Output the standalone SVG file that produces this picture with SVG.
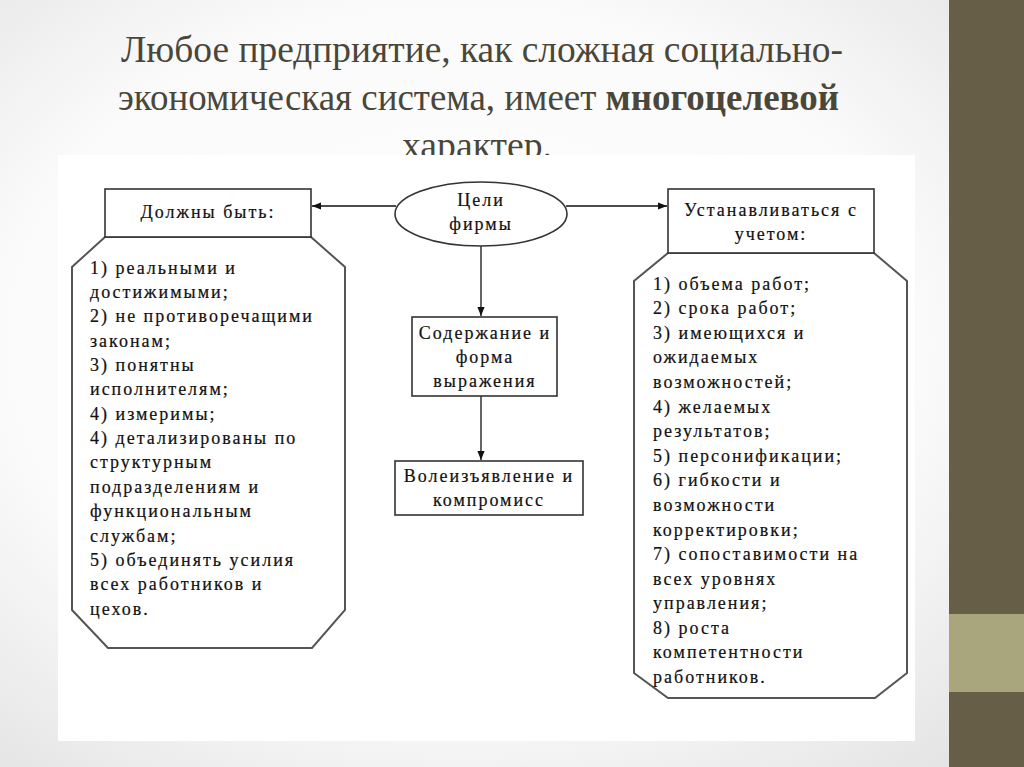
<svg xmlns="http://www.w3.org/2000/svg" width="1024" height="767" viewBox="0 0 1024 767">
<defs>
<radialGradient id="bg" cx="0.45" cy="0.45" r="0.75">
<stop offset="0" stop-color="#ffffff"/>
<stop offset="0.6" stop-color="#fafafa"/>
<stop offset="1" stop-color="#e2e2e2"/>
</radialGradient>
<marker id="ah" viewBox="0 0 10 10" refX="10" refY="5" markerWidth="9" markerHeight="9" markerUnits="userSpaceOnUse" orient="auto">
<path d="M0,1 L10,5 L0,9 Z" fill="#111"/>
</marker>
<style>
.title{font-family:"Liberation Serif","DejaVu Serif",serif;font-size:38px;fill:#4a4638;}
.t{font-family:"Liberation Serif","DejaVu Serif",serif;font-size:18px;fill:#111;letter-spacing:2px;stroke:#111;stroke-width:0.2px;}
.c{text-anchor:middle;}
.box{fill:#ffffff;stroke:#333;stroke-width:1.6;}
.oct{fill:#ffffff;stroke:#555;stroke-width:2;}
.con{stroke:#111;stroke-width:1.3;fill:none;marker-end:url(#ah);}
</style>
</defs>
<rect x="0" y="0" width="1024" height="767" fill="url(#bg)"/>
<rect x="949" y="0" width="75" height="767" fill="#665e47"/>
<rect x="949" y="614" width="75" height="78" fill="#a9a57c"/>
<g id="title">
<text class="title" x="121" y="62" textLength="722" lengthAdjust="spacingAndGlyphs">Любое предприятие, как сложная социально-</text>
<text class="title" x="118" y="110" textLength="721" lengthAdjust="spacingAndGlyphs">экономическая система, имеет <tspan font-weight="bold">многоцелевой</tspan></text>
<text class="title" x="402" y="158" textLength="150" lengthAdjust="spacingAndGlyphs">характер.</text>
</g>
<rect x="58" y="155" width="857" height="586" fill="#ffffff"/>
<g id="connectors">
<line class="con" x1="396" y1="206" x2="312" y2="206"/>
<line class="con" x1="566" y1="206" x2="667" y2="206"/>
<line class="con" x1="481" y1="246" x2="481" y2="316"/>
<line class="con" x1="481" y1="396" x2="481" y2="460"/>
</g>
<g id="left-list">
<polygon class="oct" points="105,237 311,237 345,267 345,610 312,648 108,648 72,610 72,267"/>
<text class="t" x="90" y="274">1) реальными и</text>
<text class="t" x="90" y="298">достижимыми;</text>
<text class="t" x="90" y="322">2) не противоречащими</text>
<text class="t" x="90" y="347">законам;</text>
<text class="t" x="90" y="371">3) понятны</text>
<text class="t" x="90" y="395">исполнителям;</text>
<text class="t" x="90" y="420">4) измеримы;</text>
<text class="t" x="90" y="444">4) детализированы по</text>
<text class="t" x="90" y="468">структурным</text>
<text class="t" x="90" y="493">подразделениям и</text>
<text class="t" x="90" y="517">функциональным</text>
<text class="t" x="90" y="542">службам;</text>
<text class="t" x="90" y="566">5) объединять усилия</text>
<text class="t" x="90" y="590">всех работников и</text>
<text class="t" x="90" y="615">цехов.</text>
</g>
<g id="must-be">
<rect class="box" x="105" y="189" width="206" height="48"/>
<text class="t c" x="208" y="218">Должны быть:</text>
</g>
<g id="goals">
<ellipse class="box" cx="481" cy="214" rx="86" ry="32"/>
<text class="t c" x="481" y="206">Цели</text>
<text class="t c" x="481" y="230">фирмы</text>
</g>
<g id="content">
<rect class="box" x="412" y="317" width="145" height="79"/>
<text class="t c" x="485" y="339">Содержание и</text>
<text class="t c" x="485" y="363">форма</text>
<text class="t c" x="485" y="387">выражения</text>
</g>
<g id="will">
<rect class="box" x="395" y="461" width="188" height="54"/>
<text class="t c" x="489" y="482">Волеизъявление и</text>
<text class="t c" x="489" y="506">компромисс</text>
</g>
<g id="right-list">
<polygon class="oct" points="668,253 874,253 907,281 907,673 875,698 668,698 634,673 634,281"/>
<text class="t" x="653" y="290">1) объема работ;</text>
<text class="t" x="653" y="314">2) срока работ;</text>
<text class="t" x="653" y="339">3) имеющихся и</text>
<text class="t" x="653" y="363">ожидаемых</text>
<text class="t" x="653" y="388">возможностей;</text>
<text class="t" x="653" y="413">4) желаемых</text>
<text class="t" x="653" y="437">результатов;</text>
<text class="t" x="653" y="462">5) персонификации;</text>
<text class="t" x="653" y="486">6) гибкости и</text>
<text class="t" x="653" y="511">возможности</text>
<text class="t" x="653" y="536">корректировки;</text>
<text class="t" x="653" y="560">7) сопоставимости на</text>
<text class="t" x="653" y="585">всех уровнях</text>
<text class="t" x="653" y="609">управления;</text>
<text class="t" x="653" y="634">8) роста</text>
<text class="t" x="653" y="658">компетентности</text>
<text class="t" x="653" y="683">работников.</text>
</g>
<g id="consider">
<rect class="box" x="668" y="189" width="206" height="64"/>
<text class="t c" x="771" y="216">Устанавливаться с</text>
<text class="t c" x="771" y="240">учетом:</text>
</g>
</svg>
